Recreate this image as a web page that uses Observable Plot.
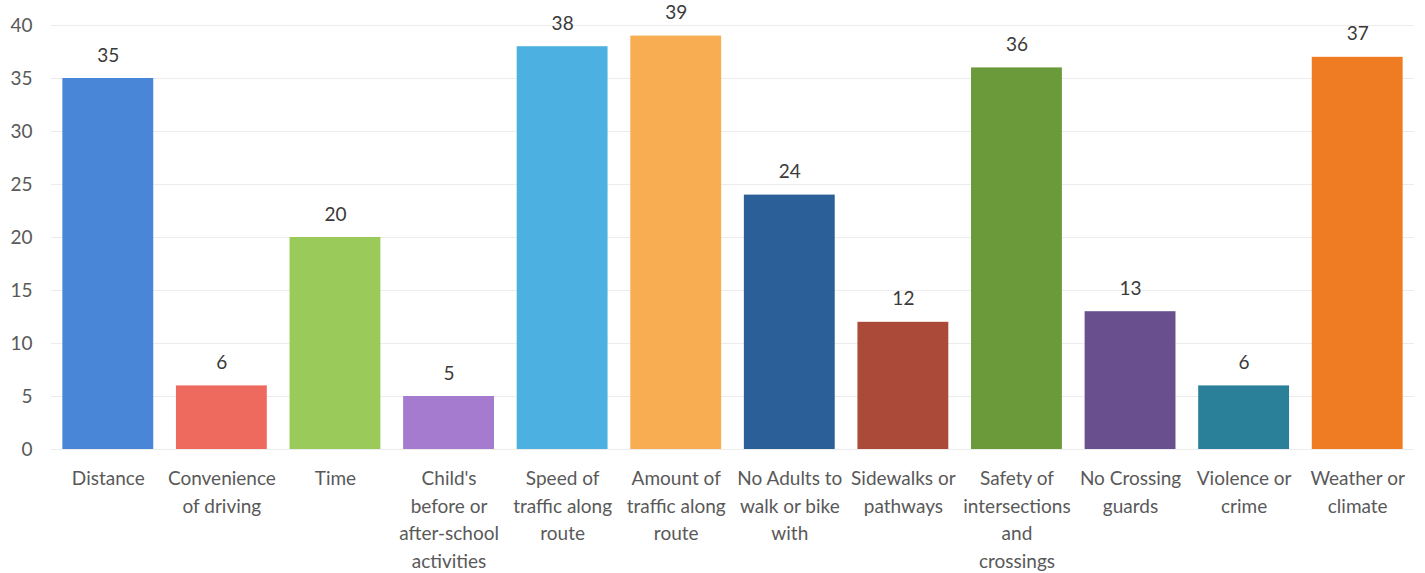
<!DOCTYPE html>
<html>
<head>
<meta charset="utf-8">
<script src="https://cdn.jsdelivr.net/npm/d3@7"></script>
<script src="https://cdn.jsdelivr.net/npm/@observablehq/plot@0.6"></script>
<style>
  html, body { margin: 0; padding: 0; background: #fff; }
  #chart svg { display: block; }
</style>
</head>
<body>
<div id="chart"></div>
<script>
const categories = [
  "Distance", "Convenience of driving", "Time", "Child's before or after-school activities",
  "Speed of traffic along route", "Amount of traffic along route", "No Adults to walk or bike with",
  "Sidewalks or pathways", "Safety of intersections and crossings", "No Crossing guards",
  "Violence or crime", "Weather or climate"
];
const tickLabels = [
  "Distance", "Convenience\nof driving", "Time", "Child's\nbefore or\nafter-school\nactivities",
  "Speed of\ntraffic along\nroute", "Amount of\ntraffic along\nroute", "No Adults to\nwalk or bike\nwith",
  "Sidewalks or\npathways", "Safety of\nintersections\nand\ncrossings", "No Crossing\nguards",
  "Violence or\ncrime", "Weather or\nclimate"
];
const values = [35, 6, 20, 5, 38, 39, 24, 12, 36, 13, 6, 37];
const colors = ["#4a86d8", "#ee6a5f", "#9acb5a", "#a47bcf", "#4cb1e0", "#f8ad52",
                "#2b5f97", "#ab4a39", "#6b9a3a", "#6a4f8e", "#2a7f99", "#ef7c22"];
const yTicks = [0, 5, 10, 15, 20, 25, 30, 35, 40];

const data = categories.map((c, i) => ({category: c, value: values[i], color: colors[i], label: tickLabels[i]}));
const labelOf = new Map(data.map(d => [d.category, d.label]));

const font = "Lato, 'Open Sans', sans-serif";

const chart = Plot.plot({
  width: 1425,
  height: 573,
  marginLeft: 51,
  marginRight: 11,
  marginTop: 25,
  marginBottom: 124,
  style: {fontFamily: font, fontSize: "19px", color: "#595959", background: "#fff"},
  x: {domain: categories, paddingInner: 0.2, paddingOuter: 0.1, round: false, label: null},
  y: {domain: [0, 40], label: null},
  marks: [
    Plot.gridY(yTicks, {stroke: "#ececec", strokeOpacity: 1}),
    Plot.barY(data, {x: "category", y: "value", fill: "color"}),
    Plot.text(data, {x: "category", y: "value", text: d => String(d.value), dy: -23, fill: "#3a3a3a", fontSize: 19}),
    Plot.axisY({ticks: yTicks, tickSize: 0, tickPadding: 19, label: null, fill: "#595959", fontSize: 19}),
    Plot.axisX({tickSize: 0, tickPadding: 16, label: null, tickFormat: c => labelOf.get(c),
                lineHeight: 1.45, fill: "#595959", fontSize: 19, lineAnchor: "top"})
  ]
});
document.getElementById("chart").appendChild(chart);
</script>
</body>
</html>
